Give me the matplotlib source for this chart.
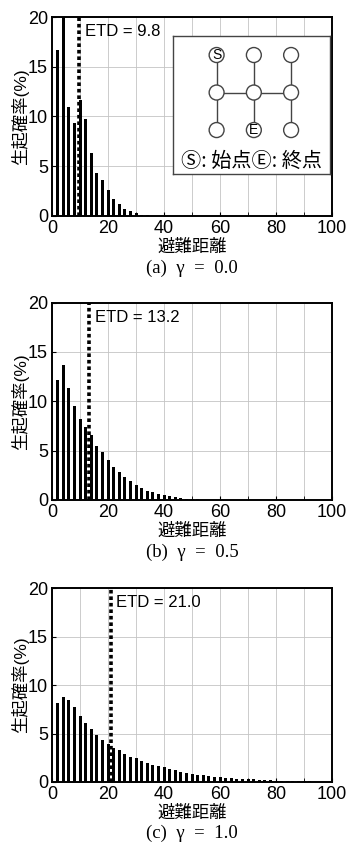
import matplotlib
matplotlib.use("Agg")
import matplotlib.pyplot as plt
from matplotlib.patches import Circle

plt.rcParams['font.family'] = ['Liberation Sans', 'Noto Sans CJK JP', 'DejaVu Sans']

# evacuation distance (even steps) and occurrence probability (%)
dist_a = [2, 4, 6, 8, 10, 12, 14, 16, 18, 20, 22, 24, 26, 28, 30, 32, 34]
prob_a = [16.7, 24.0, 11.0, 9.3, 11.7, 9.7, 6.3, 4.3, 3.6, 2.6, 1.7, 1.2, 0.7, 0.5, 0.3, 0.12, 0.05]

dist_b = list(range(2, 54, 2))
prob_b = [12.2, 13.7, 11.3, 9.5, 8.2, 7.4, 6.6, 5.5, 4.8, 4.0, 3.3, 2.8, 2.3, 1.9,
          1.5, 1.2, 0.9, 0.75, 0.6, 0.45, 0.35, 0.25, 0.18, 0.12, 0.08, 0.05]

dist_c = list(range(2, 100, 2))
prob_c = [8.2, 8.8, 8.5, 7.7, 6.8, 6.1, 5.5, 4.9, 4.3, 3.9, 3.5, 3.3, 2.9, 2.6, 2.5,
          2.2, 2.0, 1.8, 1.6, 1.5, 1.35, 1.2, 1.05, 0.95, 0.85, 0.75, 0.7, 0.6, 0.55,
          0.5, 0.45, 0.4, 0.36, 0.32, 0.3, 0.26, 0.22, 0.2, 0.17, 0.15, 0.12, 0.1,
          0.09, 0.08, 0.07, 0.06, 0.05, 0.04, 0.03]

etd = [9.8, 13.2, 21.0]
captions = ["(a)  γ  =  0.0", "(b)  γ  =  0.5", "(c)  γ  =  1.0"]

# inset network (grid col, row) and edges
nodes = [(0, 2), (1, 2), (2, 2), (0, 1), (1, 1), (2, 1), (0, 0), (1, 0), (2, 0)]
edges = [((0, 2), (0, 0)), ((1, 2), (1, 0)), ((2, 2), (2, 0)), ((0, 1), (2, 1))]
node_labels = {(0, 2): "S", (1, 0): "E"}

fig = plt.figure(figsize=(3.47, 8.5), dpi=100)

# axes rects in figure fraction
rects = [
    [0.150, 0.746, 0.807, 0.234],
    [0.150, 0.412, 0.807, 0.232],
    [0.150, 0.080, 0.807, 0.228],
]
data = [(dist_a, prob_a), (dist_b, prob_b), (dist_c, prob_c)]

axes = []
for rect, (x, y), e, cap in zip(rects, data, etd, captions):
    ax = fig.add_axes(rect)
    ax.bar(x, y, width=1.1, color="black", zorder=2)
    ax.axvline(e, color="black", linestyle=(0, (1, 0.8)), linewidth=2.6, zorder=3)
    ax.text(e + 2, 18.5, f"ETD = {e:.1f}", fontsize=12, va="center", ha="left", zorder=4)
    ax.set_xlim(0, 100)
    ax.set_ylim(0, 20)
    ax.set_xticks(range(0, 101, 20))
    ax.set_xticks(range(0, 101, 10), minor=True)
    ax.set_yticks(range(0, 21, 5))
    ax.grid(True, which="both", color="#c4c4c4", linewidth=0.6, zorder=0)
    ax.tick_params(axis="both", which="both", direction="in", length=3, labelsize=13, pad=3)
    for s in ax.spines.values():
        s.set_linewidth(1.4)
    ax.set_xlabel("避難距離", fontsize=12.5, labelpad=1)
    ax.set_ylabel("生起確率(%)", fontsize=12.5, labelpad=-1)
    ax.text(0.5, -0.265, cap, transform=ax.transAxes, ha="center", va="center",
            fontsize=13.5, family=["Liberation Serif", "DejaVu Serif"])
    axes.append(ax)

# network inset on panel (a)
ins = axes[0].inset_axes([0.432, 0.211, 0.560, 0.694])
ins.set_zorder(5)
ins.set_xlim(-1.17, 3.04)
ins.set_ylim(-1.17, 2.51)
ins.set_xticks([])
ins.set_yticks([])
ins.set_facecolor("white")
for s in ins.spines.values():
    s.set_linewidth(1.0)
    s.set_color("#444444")
for (c0, r0), (c1, r1) in edges:
    ins.plot([c0, c1], [r0, r1], color="#444444", linewidth=1.0, zorder=1)
for c, r in nodes:
    ins.add_patch(Circle((c, r), 0.2, facecolor="white", edgecolor="#444444",
                         linewidth=1.0, zorder=2))
    if (c, r) in node_labels:
        ins.text(c, r, node_labels[(c, r)], ha="center", va="center", fontsize=10, zorder=3)
ins.text(0.93, -0.85, "Ⓢ: 始点Ⓔ: 終点", ha="center", va="center", fontsize=14.5,
         family=["Noto Sans CJK JP", "DejaVu Sans"], zorder=3)

fig.savefig("out.png", dpi=100)
